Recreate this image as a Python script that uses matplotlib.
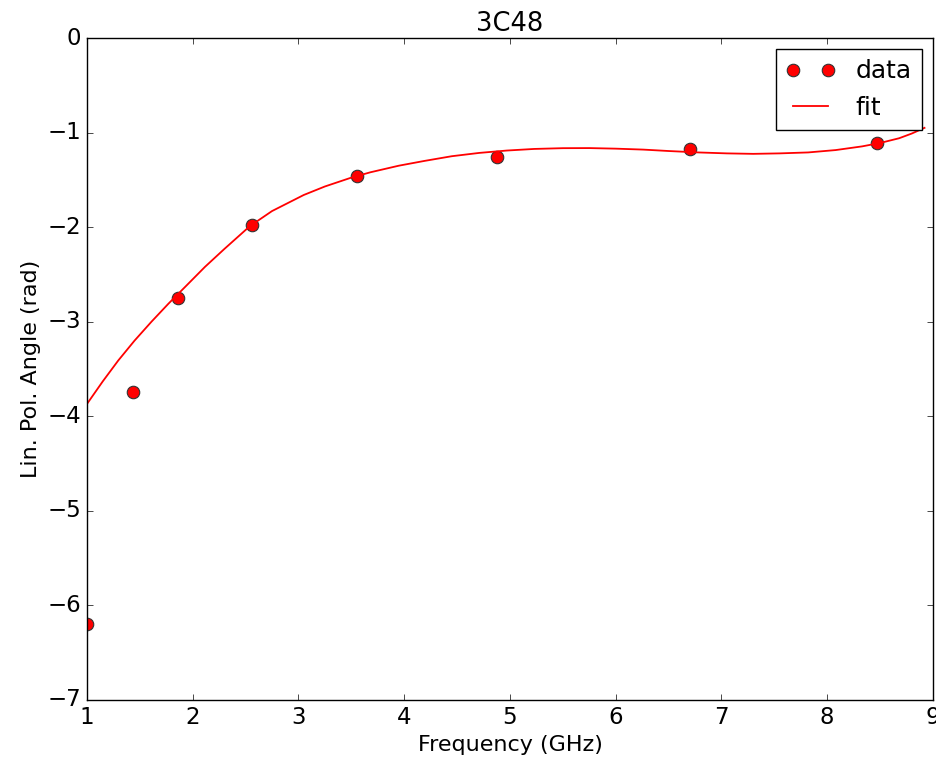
import matplotlib
matplotlib.use('Agg')
import matplotlib.pyplot as plt

# data
freq = [1.0, 1.44, 1.86, 2.56, 3.55, 4.88, 6.70, 8.47]
angle = [-6.20, -3.74, -2.75, -1.98, -1.46, -1.26, -1.17, -1.11]

# fit curve, points
fit_x = [1.0, 1.15, 1.296, 1.45, 1.61, 1.77, 1.93, 2.116, 2.3, 2.54, 2.75, 3.05,
         3.25, 3.49, 3.68, 3.95, 4.19, 4.45, 4.71, 4.97, 5.23, 5.5, 5.75, 6.0,
         6.26, 6.5, 6.78, 7.05, 7.30, 7.55, 7.82, 8.08, 8.33, 8.5, 8.68, 8.8, 8.92]
fit_y = [-3.87, -3.63, -3.41, -3.20, -3.00, -2.81, -2.63, -2.42, -2.23, -1.99,
         -1.83, -1.66, -1.57, -1.48, -1.42, -1.35, -1.30, -1.25, -1.215, -1.19,
         -1.173, -1.165, -1.164, -1.17, -1.18, -1.195, -1.21, -1.22, -1.225, -1.22,
         -1.21, -1.185, -1.146, -1.11, -1.06, -1.01, -0.95]

plt.style.use('classic')
fig = plt.figure(figsize=(9.37, 7.57), dpi=100, facecolor='white')
ax = fig.add_axes([0.0928, 0.0753, 0.9029, 0.8745])

ax.plot(freq, angle, 'o', color='red', markersize=9, markeredgecolor='#333333',
        markeredgewidth=0.8, label='data')
ax.plot(fit_x, fit_y, '-', color='red', linewidth=1.3, label='fit')

ax.set_xlim(1, 9)
ax.set_ylim(-7, 0)
ax.tick_params(labelsize=16.5)
ax.set_xlabel('Frequency (GHz)', fontsize=16)
ax.set_ylabel('Lin. Pol. Angle (rad)', fontsize=16)
ax.set_title('3C48', fontsize=18.5)
ax.legend(loc='upper right', numpoints=2, fontsize=18, borderaxespad=0.45)

fig.savefig('out.png', dpi=100, facecolor='white')
